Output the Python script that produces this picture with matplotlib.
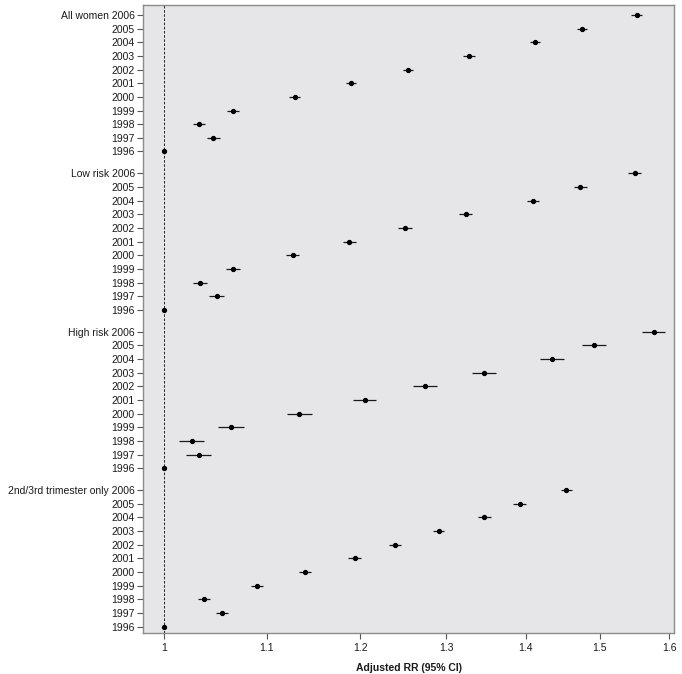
#!/usr/bin/env python3
"""Forest plot of adjusted RR by year for four groups of women (log x axis)."""

import matplotlib.pyplot as plt
from matplotlib.ticker import FixedLocator, FixedFormatter, NullLocator

plt.rcParams["font.family"] = ["Liberation Sans", "DejaVu Sans"]

# --- Data ---
GROUPS = ["All women", "Low risk", "High risk", "2nd/3rd trimester only"]
YEARS = [2006, 2005, 2004, 2003, 2002, 2001, 2000, 1999, 1998, 1997, 1996]

all_rr = [1.552, 1.475, 1.412, 1.328, 1.255, 1.190, 1.129, 1.066, 1.033, 1.047, 1.000]
all_lo = [1.544, 1.468, 1.405, 1.321, 1.249, 1.184, 1.123, 1.060, 1.027, 1.041, 1.000]
all_hi = [1.560, 1.482, 1.419, 1.335, 1.261, 1.196, 1.135, 1.072, 1.039, 1.053, 1.000]

low_rr = [1.549, 1.473, 1.409, 1.324, 1.251, 1.188, 1.127, 1.066, 1.034, 1.050, 1.000]
low_lo = [1.540, 1.464, 1.401, 1.316, 1.243, 1.181, 1.120, 1.059, 1.027, 1.043, 1.000]
low_hi = [1.558, 1.482, 1.417, 1.332, 1.259, 1.195, 1.134, 1.073, 1.041, 1.057, 1.000]

high_rr = [1.577, 1.492, 1.434, 1.347, 1.275, 1.205, 1.134, 1.064, 1.026, 1.033, 1.000]
high_lo = [1.560, 1.475, 1.418, 1.332, 1.261, 1.192, 1.121, 1.051, 1.014, 1.021, 1.000]
high_hi = [1.594, 1.509, 1.450, 1.362, 1.289, 1.218, 1.148, 1.077, 1.038, 1.045, 1.000]

tri_rr = [1.454, 1.392, 1.347, 1.291, 1.240, 1.194, 1.140, 1.090, 1.038, 1.055, 1.000]
tri_lo = [1.446, 1.384, 1.339, 1.284, 1.233, 1.187, 1.134, 1.084, 1.032, 1.049, 1.000]
tri_hi = [1.462, 1.400, 1.355, 1.298, 1.247, 1.201, 1.146, 1.096, 1.044, 1.061, 1.000]

X_TICKS = [1, 1.1, 1.2, 1.3, 1.4, 1.5, 1.6]
X_TICK_LABELS = ["1", "1.1", "1.2", "1.3", "1.4", "1.5", "1.6"]

GROUP_STEP = 11.6  # rows from one group's first row to the next (includes the gap)

series = [
    (all_rr, all_lo, all_hi),
    (low_rr, low_lo, low_hi),
    (high_rr, high_lo, high_hi),
    (tri_rr, tri_lo, tri_hi),
]

fig = plt.figure(figsize=(6.82, 6.74), dpi=100)
ax = fig.add_axes([0.2097, 0.0604, 0.7786, 0.9322])
ax.set_facecolor("#e6e6e8")

yticks, ylabels = [], []
for g, (name, (rr, lo, hi)) in enumerate(zip(GROUPS, series)):
    ys = [-(g * GROUP_STEP + i) for i in range(len(YEARS))]
    xerr = [[r - l for r, l in zip(rr, lo)], [h - r for r, h in zip(rr, hi)]]
    ax.errorbar(rr, ys, xerr=xerr, fmt="o", color="black", ecolor="#1a1a1a",
                elinewidth=0.9, markersize=2.8, capsize=0, zorder=3)
    for i, (y, yr) in enumerate(zip(ys, YEARS)):
        yticks.append(y)
        ylabels.append(f"{name} {yr}" if i == 0 else str(yr))

# Reference line at RR = 1
ax.axvline(1, color="black", linestyle=(0, (3, 2)), linewidth=0.6, zorder=2)

ax.set_xscale("log")
ax.xaxis.set_major_locator(FixedLocator(X_TICKS))
ax.xaxis.set_major_formatter(FixedFormatter(X_TICK_LABELS))
ax.xaxis.set_minor_locator(NullLocator())
ax.set_xlim(0.9806, 1.607)

last_y = -(3 * GROUP_STEP + len(YEARS) - 1)
ax.set_ylim(last_y - 0.49, 0.73)
ax.set_yticks(yticks)
ax.set_yticklabels(ylabels)

ax.tick_params(axis="both", labelsize=7.5, color="#555555", length=4, width=0.8,
               labelcolor="#1a1a1a")
ax.tick_params(axis="y", pad=2)
ax.tick_params(axis="x", pad=3)
for s in ax.spines.values():
    s.set_color("#8c8c8c")
    s.set_linewidth(1.0)

ax.set_xlabel("Adjusted RR (95% CI)", fontsize=7.5, fontweight="bold", labelpad=7,
              color="#1a1a1a")

fig.savefig("out.png", dpi=100)
